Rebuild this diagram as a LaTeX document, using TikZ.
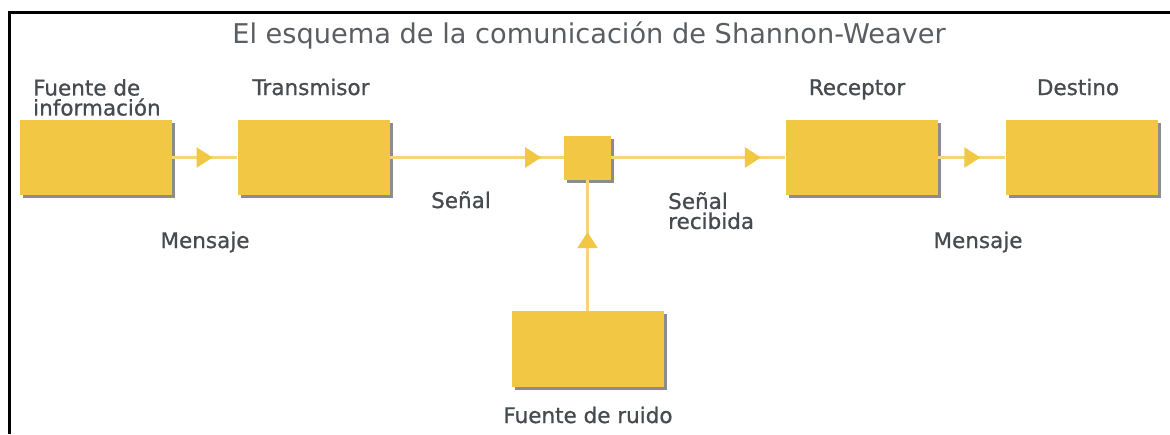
\documentclass[tikz,border=0pt]{standalone}
\usepackage{fontspec}
\setmainfont{DejaVu Sans}
\newfontfamily\lblfont[FakeBold=0.8]{DejaVu Sans}
\usetikzlibrary{arrows.meta,shadows,decorations.markings}
\definecolor{boxcol}{HTML}{F2C744}
\definecolor{linecol}{HTML}{F5D57A}
\definecolor{txtcol}{HTML}{464B50}
\definecolor{titlecol}{HTML}{5A5E63}
\tikzset{
  block/.style={fill=boxcol, inner sep=0pt, minimum width=152pt, minimum height=75pt,
    drop shadow={shadow xshift=3pt, shadow yshift=-3pt, fill=black, opacity=0.45}},
  lbl/.style={text=txtcol, inner sep=0pt, font=\lblfont\fontsize{21.5}{20}\selectfont},
  flow/.style={draw=linecol, line width=2.5pt, postaction={decorate},
    decoration={markings, mark=at position #1 with {\arrow[boxcol]{Triangle[width=20pt,length=16pt]}}}}
}
\begin{document}
\begin{tikzpicture}[x=1pt,y=-1pt]
  \useasboundingbox (0,0) rectangle (1170,434);
  \fill[white] (0,0) rectangle (1170,434);
  \draw[line width=3pt] (1170,12) -- (9,12) -- (9,434);

  % title
  \node[text=titlecol, inner sep=0pt, anchor=base, font=\fontsize{27.2}{28}\selectfont]
    (title) at (589,43) {El esquema de la comunicación de Shannon-Weaver};

  % blocks
  \node[block] (src) at (96,157.5) {};
  \node[block] (tx) at (313.5,157.5) {};
  \node[block, minimum width=47pt, minimum height=44pt] (mix) at (587.5,157.5) {};
  \node[block] (rx) at (861.5,157.5) {};
  \node[block] (dst) at (1081.5,157.5) {};
  \node[block, minimum height=76pt] (noise) at (587.5,349) {};

  % connectors
  \draw[flow=0.62] (src) -- (tx);
  \draw[flow=0.87] (tx) -- (mix);
  \draw[flow=0.86] (mix) -- (rx);
  \draw[flow=0.63] (rx) -- (dst);
  \draw[flow=0.6] (noise) -- (mix);

  % labels
  \node[lbl, anchor=south west, align=left] (lsrc) at (33,116) {Fuente de\\información};
  \node[lbl, anchor=base] (ltx) at (311,95) {Transmisor};
  \node[lbl, anchor=base] (lrx) at (857,95) {Receptor};
  \node[lbl, anchor=base] (ldst) at (1078,95) {Destino};
  \node[lbl, anchor=base] (lsig) at (461,208) {Señal};
  \node[lbl, anchor=north west, align=left] (lrec) at (668,192) {Señal\\recibida};
  \node[lbl, anchor=base] (lmsg1) at (205,248) {Mensaje};
  \node[lbl, anchor=base] (lmsg2) at (978,248) {Mensaje};
  \node[lbl, anchor=base] (lnoise) at (588,423) {Fuente de ruido};
\end{tikzpicture}
\end{document}
